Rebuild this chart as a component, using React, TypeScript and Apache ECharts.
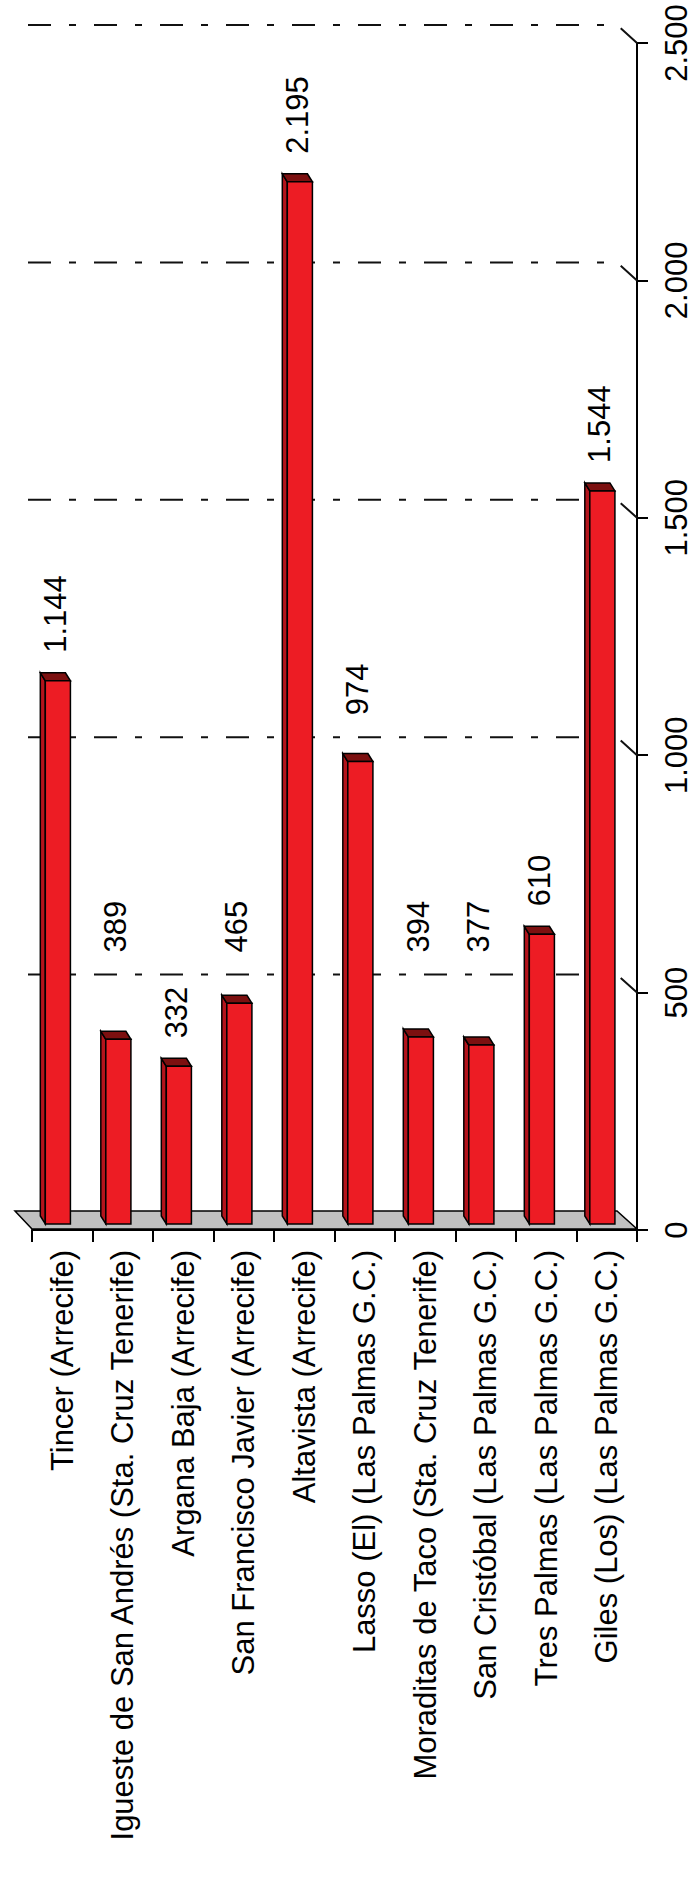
import React, { useEffect, useRef } from "react";
import * as echarts from "echarts";

const categories = [
  "Tincer (Arrecife)",
  "Igueste de San Andrés (Sta. Cruz Tenerife)",
  "Argana Baja (Arrecife)",
  "San Francisco Javier (Arrecife)",
  "Altavista (Arrecife)",
  "Lasso (El) (Las Palmas G.C.)",
  "Moraditas de Taco (Sta. Cruz Tenerife)",
  "San Cristóbal (Las Palmas G.C.)",
  "Tres Palmas (Las Palmas G.C.)",
  "Giles (Los) (Las Palmas G.C.)",
];
const values = [1144, 389, 332, 465, 2195, 974, 394, 377, 610, 1544];
const valueTicks = [0, 500, 1000, 1500, 2000, 2500];

const FONT_FAMILY = "'Liberation Sans', Arial, sans-serif";
const FONT_SIZE = 31;

const fmt = (v: number) => String(v).replace(/\B(?=(\d{3})+(?!\d))/g, ".");

let measureCtx: CanvasRenderingContext2D | null = null;
function textWidth(s: string): number {
  if (!measureCtx) {
    const c = document.createElement("canvas");
    measureCtx = c.getContext("2d");
  }
  if (!measureCtx) return s.length * FONT_SIZE * 0.556;
  measureCtx.font = `${FONT_SIZE}px ${FONT_FAMILY}`;
  return measureCtx.measureText(s).width;
}

const WALL_DX = 20;
const WALL_DY = 18;

export default function App() {
  const ref = useRef<HTMLDivElement>(null);

  useEffect(() => {
    if (!ref.current) return;
    const chart = echarts.init(ref.current, null, { renderer: "svg" });

    const floorSeries = {
      type: "custom",
      z: 1,
      silent: true,
      data: [[0, 0]],
      renderItem: (params: any, api: any) => {
        const cs = params.coordSys;
        const by = api.coord([0, 0])[1] - 1;
        return {
          type: "polygon",
          shape: {
            points: [
              [cs.x - WALL_DX + 3, by - WALL_DY],
              [cs.x + cs.width - WALL_DX, by - WALL_DY],
              [cs.x + cs.width, by],
              [cs.x, by],
            ],
          },
          style: { fill: "#c0c0c0", stroke: "#000", lineWidth: 1.5 },
        };
      },
    };

    const gridSeries = {
      type: "custom",
      z: 2,
      silent: true,
      data: valueTicks.filter((v) => v > 0).map((v) => [0, v]),
      renderItem: (params: any, api: any) => {
        const cs = params.coordSys;
        const y = api.coord([0, api.value(1)])[1];
        return {
          type: "polyline",
          shape: {
            points: [
              [cs.x - 4, y - WALL_DY],
              [cs.x + cs.width - WALL_DX, y - WALL_DY],
              [cs.x + cs.width, y],
            ],
          },
          style: {
            fill: null,
            stroke: "#111",
            lineWidth: 2,
            lineDash: [23, 18, 7, 18],
          },
        };
      },
    };

    const barSeries = {
      type: "custom",
      z: 3,
      data: values.map((v, i) => [i, v]),
      renderItem: (params: any, api: any) => {
        const idx = api.value(0);
        const v = api.value(1);
        const p0 = api.coord([idx, 0]);
        const p1 = api.coord([idx, v]);
        const band = api.size([1, 0])[0];
        const cx = p0[0];
        const L = cx - band * 0.28;
        const R = cx + band * 0.135;
        const lift = 6;
        const dx = 5;
        const dy = 8;
        const B = p0[1] - lift;
        const T = p1[1] - lift;
        const stroke = "#000";
        const lw = 1.5;

        // label placement, avoiding the back-wall gridlines
        const label = fmt(v);
        const w = textWidth(label);
        let bottom = T - dy - 20;
        for (const g of valueTicks) {
          if (g <= 0) continue;
          const gy = api.coord([0, g])[1] - WALL_DY;
          const top = bottom - w;
          if (gy > top - 4 && gy < bottom + 4) {
            bottom = gy - 22;
          }
        }
        const lx = (L - dx + R) / 2;

        return {
          type: "group",
          children: [
            {
              type: "polygon",
              shape: {
                points: [
                  [L, T],
                  [L - dx, T - dy],
                  [L - dx, B - dy],
                  [L, B],
                ],
              },
              style: { fill: "#b3141c", stroke, lineWidth: lw },
            },
            {
              type: "polygon",
              shape: {
                points: [
                  [L, T],
                  [L - dx, T - dy],
                  [R - dx, T - dy],
                  [R, T],
                ],
              },
              style: { fill: "#7c1010", stroke, lineWidth: lw },
            },
            {
              type: "rect",
              shape: { x: L, y: T, width: R - L, height: B - T },
              style: { fill: "#ed1c24", stroke, lineWidth: lw },
            },
            {
              type: "text",
              x: lx,
              y: bottom,
              rotation: Math.PI / 2,
              style: {
                x: 0,
                y: 0,
                text: label,
                align: "left",
                verticalAlign: "middle",
                fill: "#000",
                fontSize: FONT_SIZE,
                fontFamily: FONT_FAMILY,
              },
            },
          ],
        };
      },
    };

    chart.setOption({
      animation: false,
      backgroundColor: "#ffffff",
      grid: {
        left: 32,
        right: 693 - 637,
        top: 43,
        bottom: 1886 - 1230,
        outerBoundsMode: "none",
        containLabel: false,
      },
      xAxis: {
        type: "category",
        data: categories,
        boundaryGap: true,
        axisLine: { show: true, lineStyle: { color: "#000", width: 2 } },
        axisTick: {
          show: true,
          interval: 0,
          length: 12,
          lineStyle: { color: "#000", width: 2 },
        },
        axisLabel: {
          interval: 0,
          rotate: 90,
          margin: 20,
          color: "#000",
          fontSize: FONT_SIZE,
          fontFamily: FONT_FAMILY,
        },
        splitLine: { show: false },
      },
      yAxis: {
        type: "value",
        position: "right",
        min: 0,
        max: 2500,
        interval: 500,
        axisLine: { show: true, lineStyle: { color: "#000", width: 2 } },
        axisTick: {
          show: true,
          length: 11,
          lineStyle: { color: "#000", width: 2 },
        },
        axisLabel: {
          rotate: 90,
          margin: 24,
          color: "#000",
          fontSize: FONT_SIZE,
          fontFamily: FONT_FAMILY,
          formatter: (v: number) => fmt(v),
        },
        splitLine: { show: false },
      },
      series: [floorSeries, gridSeries, barSeries],
    });

    return () => chart.dispose();
  }, []);

  return (
    <div
      ref={ref}
      style={{ position: "absolute", left: 0, top: 0, width: 693, height: 1886 }}
    />
  );
}
